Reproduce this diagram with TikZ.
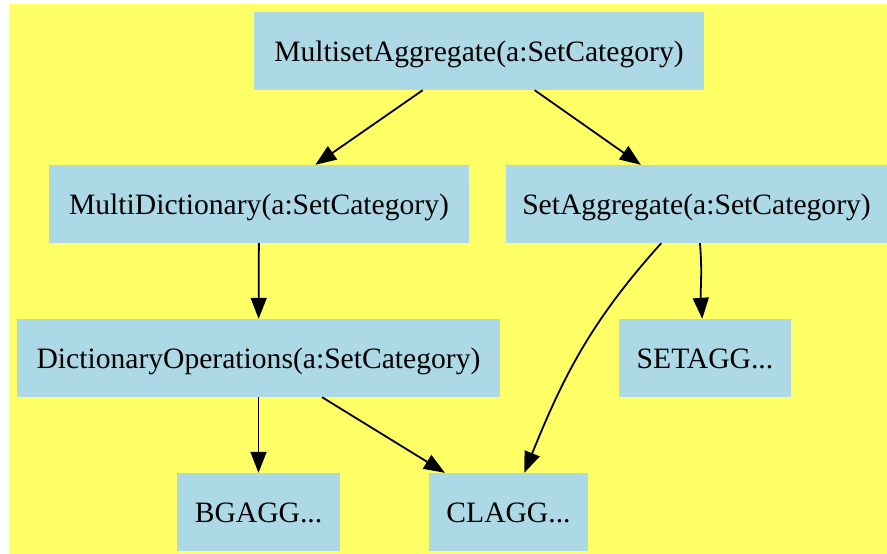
\documentclass[tikz,border=0pt]{standalone}
\usepackage{fontspec}
\setmainfont{Liberation Serif}
\usepackage{tikz}
\usetikzlibrary{arrows.meta,positioning,calc}
\usepackage{xcolor}
\definecolor{bgyellow}{HTML}{FFFF66}
\definecolor{boxblue}{HTML}{ADD8E6}

\begin{document}
\begin{tikzpicture}[x=1pt, y=-1pt,
        every node/.style={fill=boxblue, align=center, inner sep=0pt, minimum height=78pt,
            text height=21.4pt, text depth=0pt, font=\fontsize{29.6}{36}\selectfont},
        edge/.style={line width=1.8pt, -{Triangle[length=21pt, width=16pt]}}
    ]
        \useasboundingbox (0,0) rectangle (887,554);
        \fill[bgyellow] (9,4) rectangle (887,554);

        \node[minimum width=450pt] (msa) at (479,51) {MultisetAggregate(a:SetCategory)};
        \node[minimum width=420pt] (md) at (259,204) {MultiDictionary(a:SetCategory)};
        \node[minimum width=381pt] (sa) at (696.5,204) {SetAggregate(a:SetCategory)};
        \node[minimum width=483pt] (dop) at (258.5,358) {DictionaryOperations(a:SetCategory)};
        \node[minimum width=172pt] (setagg) at (705,358) {SETAGG...};
        \node[minimum width=163pt] (bgagg) at (258.5,512) {BGAGG...};
        \node[minimum width=159pt] (clagg) at (508.5,512) {CLAGG...};

        \draw[edge] (msa) -- (md);
        \draw[edge] (msa) -- (sa);
        \draw[edge] (md) -- (dop);
        \draw[edge] (sa) to[out=-85, in=94] (setagg);
        \draw[edge] (sa) to[out=-132, in=68] (clagg);
        \draw[edge] (dop) -- (bgagg);
        \draw[edge] (dop) -- (clagg);
    \end{tikzpicture}
\end{document}
